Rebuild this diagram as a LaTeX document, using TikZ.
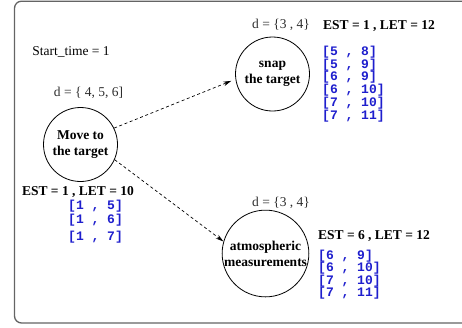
\documentclass[tikz,border=0pt]{standalone}
\usepackage{fontspec}
\setmainfont{Liberation Serif}
\newfontfamily\monob{Liberation Mono}[BoldFont={* Bold}]
\usetikzlibrary{arrows.meta}
\definecolor{listblue}{RGB}{30,30,205}
\definecolor{framegray}{RGB}{100,100,100}
\definecolor{dgray}{RGB}{45,45,45}
\tikzset{
  task/.style={circle, draw, line width=0.8pt, minimum size=74pt, inner sep=0pt, align=center, font=\bfseries\fontsize{13.5}{16}\selectfont},
  lbl/.style={inner sep=0pt, font=\fontsize{13.5}{16}\selectfont},
  dlbl/.style={inner sep=0pt, text=dgray, font=\fontsize{13.5}{16}\selectfont},
  estlbl/.style={inner sep=0pt, font=\bfseries\fontsize{13.5}{16}\selectfont},
  slots/.style={inner sep=0pt, anchor=west, align=left, text=listblue},
  dep/.style={dashed, dash pattern=on 3pt off 2.6pt, line width=0.7pt, -{Stealth[length=8pt,width=4.5pt]}}
}
\begin{document}
\begin{tikzpicture}[x=1pt,y=-1pt]
\useasboundingbox (0,0) rectangle (462,327);
\begin{scope}
\clip (0,0) rectangle (462,327);
\draw[framegray, line width=1.3pt, rounded corners=7pt] (14.5,1.2) rectangle (470,323);
\end{scope}
\node[lbl] (start) at (71,52) {Start\_time = 1};
\node[task] (move) at (80.5,144.5) {\fontsize{13.5}{19}\selectfont Move to\\the target};
\node[task] (snap) at (272.5,74) {snap\\the target};
\node[task] (atmo) at (265.5,253.5) {\fontsize{13.5}{15}\selectfont atmospheric\\measurements};
\node[dlbl] (dmove) at (88.5,93) {d = \{ 4, 5, 6]};
\node[dlbl] (dsnap) at (281,25) {d = \{3 , 4\}};
\node[dlbl] (datmo) at (281,203) {d = \{3 , 4\}};
\node[estlbl] (estsnap) at (379,26) {EST = 1 , LET = 12};
\node[estlbl] (estmove) at (78,192) {EST = 1 , LET = 10};
\node[estlbl] (estatmo) at (374,236) {EST = 6 , LET = 12};
\node[slots, font=\monob\bfseries\fontsize{13}{12.8}\selectfont] (lsnap) at (322,84) {{[}5 , 8]\\{[}5 , 9]\\{[}6 , 9]\\{[}6 , 10]\\{[}7 , 10]\\{[}7 , 11]};
\node[slots, font=\monob\bfseries\fontsize{13}{14.3}\selectfont] (lmove) at (68,221.5) {{[}1 , 5]\\{[}1 , 6]\\[2.4pt]{[}1 , 7]};
\node[slots, font=\monob\bfseries\fontsize{13}{12.3}\selectfont] (latmo) at (318,274.5) {{[}6 , 9]\\{[}6 , 10]\\{[}7 , 10]\\{[}7 , 11]};
\draw[dep, shorten >=4.5pt] (move.26) -- (snap.188);
\draw[dep] (move.-24) -- (atmo.164);
\end{tikzpicture}
\end{document}
